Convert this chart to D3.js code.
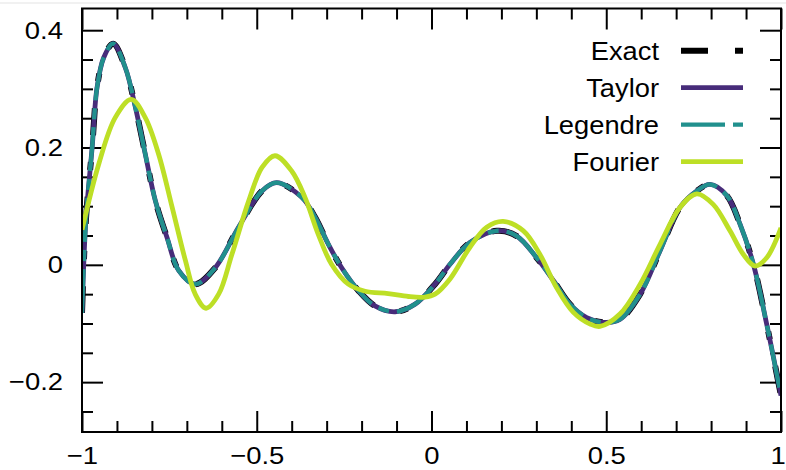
<!DOCTYPE html>
<html>
<head>
<meta charset="utf-8">
<script src="https://d3js.org/d3.v7.min.js"></script>
<style>
  body { margin: 0; background: #fff; }
  svg { display: block; font-family: "Liberation Sans", Arial, sans-serif; }
  .tick text { fill: #000; }
</style>
</head>
<body>
<svg id="chart" width="786" height="470"></svg>
<script>
// values
const exactX = [-1, -0.989, -0.971, -0.957, -0.938, -0.911, -0.876, -0.847, -0.819, -0.790, -0.757, -0.723,
  -0.676, -0.619, -0.552, -0.485, -0.443, -0.371, -0.333, -0.295, -0.257, -0.209, -0.162, -0.104,
  -0.047, 0.010, 0.053, 0.110, 0.187, 0.244, 0.301, 0.349, 0.396, 0.444, 0.492, 0.539, 0.597,
  0.654, 0.711, 0.759, 0.797, 0.845, 0.883, 0.921, 0.959, 1];
const exactY = [-0.082, 0.075, 0.200, 0.302, 0.353, 0.377, 0.336, 0.268, 0.189, 0.109, 0.047, -0.010,
  -0.033, -0.005, 0.064, 0.126, 0.140, 0.115, 0.081, 0.035, -0.005, -0.044, -0.070, -0.080,
  -0.067, -0.033, 0.001, 0.038, 0.058, 0.049, 0.012, -0.027, -0.067, -0.090, -0.098, -0.093, -0.050,
  0.024, 0.098, 0.126, 0.137, 0.118, 0.069, 0.001, -0.101, -0.223];
// Taylor and Legendre sit on top of the exact curve in the picture
const taylorY = [-0.082, 0.075, 0.200, 0.302, 0.353, 0.377, 0.336, 0.268, 0.189, 0.109, 0.047, -0.010,
  -0.033, -0.005, 0.064, 0.126, 0.140, 0.115, 0.081, 0.035, -0.005, -0.044, -0.070, -0.080,
  -0.067, -0.033, 0.001, 0.038, 0.058, 0.049, 0.012, -0.027, -0.067, -0.090, -0.098, -0.093, -0.050,
  0.024, 0.098, 0.126, 0.137, 0.118, 0.069, 0.001, -0.101, -0.223];
const legendreY = [-0.082, 0.075, 0.200, 0.302, 0.353, 0.377, 0.336, 0.268, 0.189, 0.109, 0.047, -0.010,
  -0.033, -0.005, 0.064, 0.126, 0.140, 0.115, 0.081, 0.035, -0.005, -0.044, -0.070, -0.080,
  -0.067, -0.033, 0.001, 0.038, 0.058, 0.049, 0.012, -0.027, -0.067, -0.090, -0.098, -0.093, -0.050,
  0.024, 0.098, 0.126, 0.137, 0.118, 0.069, 0.001, -0.101, -0.223];
const fourierX = [-1, -0.952, -0.905, -0.859, -0.819, -0.781, -0.742, -0.704, -0.676, -0.645, -0.609, -0.571,
  -0.523, -0.485, -0.448, -0.400, -0.362, -0.324, -0.286, -0.238, -0.190, -0.124, -0.066, -0.019,
  0.010, 0.053, 0.110, 0.158, 0.205, 0.263, 0.310, 0.358, 0.406, 0.454, 0.482, 0.539, 0.597,
  0.654, 0.711, 0.759, 0.806, 0.854, 0.892, 0.926, 0.959, 1];
const fourierY = [0.060, 0.172, 0.251, 0.282, 0.251, 0.189, 0.098, 0.007, -0.050, -0.074, -0.050, 0.018,
  0.109, 0.166, 0.186, 0.160, 0.115, 0.052, 0.001, -0.033, -0.045, -0.049, -0.054, -0.055,
  -0.050, -0.024, 0.030, 0.064, 0.074, 0.058, 0.018, -0.039, -0.081, -0.101, -0.105, -0.084, -0.033,
  0.035, 0.098, 0.121, 0.103, 0.058, 0.018, -0.002, 0.012, 0.063];

const seriesNames = ["Exact", "Taylor", "Legendre", "Fourier"];
const xMajor = [-1, -0.5, 0, 0.5, 1];
const yMajor = [-0.2, 0, 0.2, 0.4];

const series = [
  { name: "Exact", xs: exactX, ys: exactY, color: "#000", width: 6, dash: "27,27,8,27" },
  { name: "Taylor", xs: exactX, ys: taylorY, color: "#472c7a", width: 4.8, dash: null },
  { name: "Legendre", xs: exactX, ys: legendreY, color: "#21908d", width: 4.3, dash: "44,8,11,8" },
  { name: "Fourier", xs: fourierX, ys: fourierY, color: "#bddf26", width: 4.8, dash: null }
];

const pLeft = 82, pRight = 781, pTop = 8.5, pBottom = 432;
const stretch = 1.12; // the reference text is a little wider than Liberation Sans
const svg = d3.select("#chart");

const x = d3.scaleLinear().domain([-1, 1]).range([pLeft, pRight]);
const y = d3.scaleLinear().domain([-0.285, 0.437]).range([pBottom, pTop]);

// thin grey rule at the very top of the image
svg.append("line").attr("x1", 0).attr("x2", 786).attr("y1", 3).attr("y2", 3)
  .attr("stroke", "#e3e3e3").attr("stroke-width", 1);

const fmt = d3.format("~g");
const xMinor = d3.range(-10, 11).map(d => d / 10).filter(d => !xMajor.some(m => Math.abs(m - d) < 1e-9));
const yMinor = d3.range(-5, 9).map(d => d / 20).filter(d => !yMajor.some(m => Math.abs(m - d) < 1e-9));

function styleAxis(g) {
  g.select(".domain").remove();
  g.selectAll(".tick line").attr("stroke", "#000").attr("stroke-width", 2);
}

// bottom / top
const xAxisG = svg.append("g").attr("transform", `translate(0,${pBottom})`)
  .call(d3.axisBottom(x).tickValues(xMajor).tickSize(-21).tickPadding(15).tickFormat(fmt)).call(styleAxis);
svg.append("g").attr("transform", `translate(0,${pBottom})`)
  .call(d3.axisBottom(x).tickValues(xMinor).tickSize(-11).tickFormat("")).call(styleAxis);
svg.append("g").attr("transform", `translate(0,${pTop})`)
  .call(d3.axisTop(x).tickValues(xMajor).tickSize(-21).tickFormat("")).call(styleAxis);
svg.append("g").attr("transform", `translate(0,${pTop})`)
  .call(d3.axisTop(x).tickValues(xMinor).tickSize(-11).tickFormat("")).call(styleAxis);
// left / right
const yAxisG = svg.append("g").attr("transform", `translate(${pLeft},0)`)
  .call(d3.axisLeft(y).tickValues(yMajor).tickSize(-21).tickPadding(19).tickFormat(fmt)).call(styleAxis);
svg.append("g").attr("transform", `translate(${pLeft},0)`)
  .call(d3.axisLeft(y).tickValues(yMinor).tickSize(-11).tickFormat("")).call(styleAxis);
svg.append("g").attr("transform", `translate(${pRight},0)`)
  .call(d3.axisRight(y).tickValues(yMajor).tickSize(-21).tickFormat("")).call(styleAxis);
svg.append("g").attr("transform", `translate(${pRight},0)`)
  .call(d3.axisRight(y).tickValues(yMinor).tickSize(-11).tickFormat("")).call(styleAxis);

svg.selectAll(".tick text").attr("font-size", 24.5).attr("font-family", "Liberation Sans, Arial, sans-serif");
yAxisG.selectAll(".tick text").attr("x", -19 / stretch).attr("transform", `scale(${stretch},1)`);
xAxisG.selectAll(".tick text").attr("transform", `scale(${stretch},1)`)
  .attr("dx", d => d === 1 ? -3 : 0);

// curves
svg.append("clipPath").attr("id", "clip").append("rect")
  .attr("x", pLeft).attr("y", pTop).attr("width", pRight - pLeft).attr("height", pBottom - pTop);

const line = d3.line().x(d => x(d[0])).y(d => y(d[1])).curve(d3.curveCatmullRom.alpha(0.5));
const plot = svg.append("g").attr("clip-path", "url(#clip)");
series.forEach(s => {
  plot.append("path")
    .attr("d", line(s.xs.map((v, i) => [v, s.ys[i]])))
    .attr("fill", "none")
    .attr("stroke", s.color)
    .attr("stroke-width", s.width)
    .attr("stroke-dasharray", s.dash)
    .attr("stroke-linejoin", "round");
});

// frame
svg.append("rect").attr("x", pLeft).attr("y", pTop).attr("width", pRight - pLeft).attr("height", pBottom - pTop)
  .attr("fill", "none").attr("stroke", "#000").attr("stroke-width", 2);

// legend
const legend = svg.append("g");
seriesNames.forEach((name, i) => {
  const s = series.find(d => d.name === name);
  const ly = 50.7 + i * 37;
  legend.append("text").attr("transform", `translate(659,${ly}) scale(1.05,1)`).attr("dy", "0.35em")
    .attr("text-anchor", "end").attr("font-size", 26).text(name);
  legend.append("line").attr("x1", 681).attr("x2", 743).attr("y1", ly).attr("y2", ly)
    .attr("stroke", s.color).attr("stroke-width", s.width)
    .attr("stroke-dasharray", s.dash);
});
</script>
</body>
</html>
